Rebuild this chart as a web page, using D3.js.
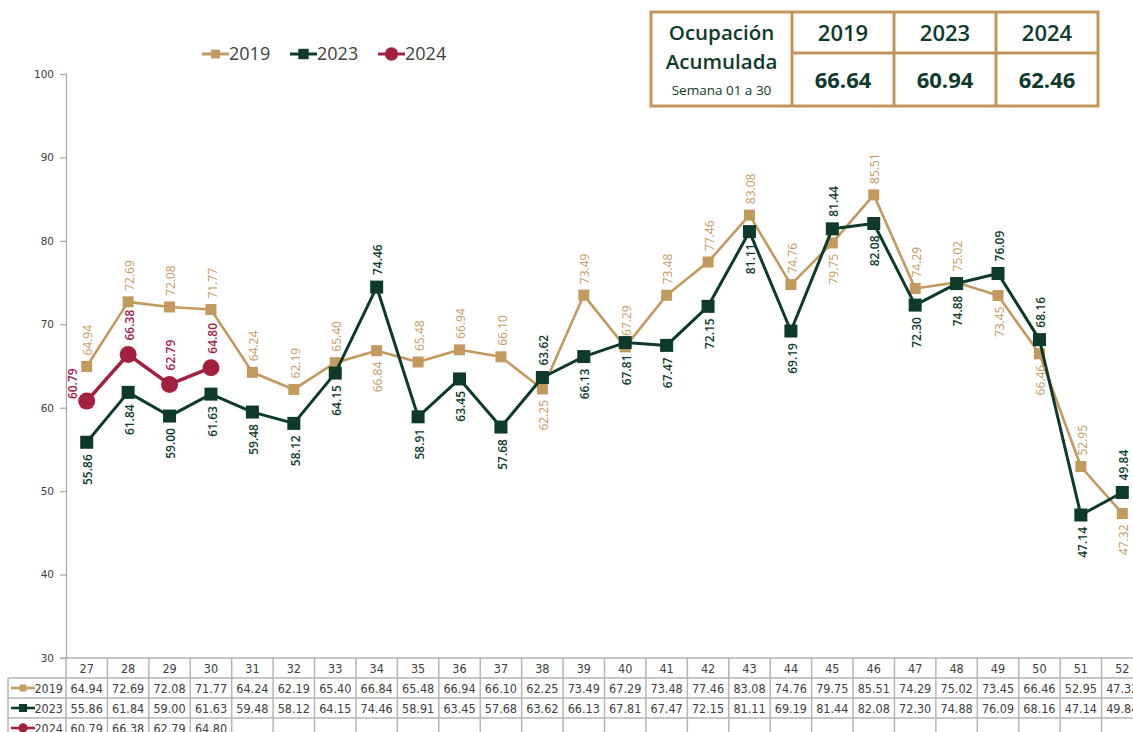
<!DOCTYPE html>
<html>
<head>
<meta charset="utf-8">
<script src="https://cdn.jsdelivr.net/npm/d3@7"></script>
<style>
  body { margin: 0; background: #fff; overflow: hidden; }
  svg { display: block; }
</style>
</head>
<body>
<svg id="chart" width="1133" height="732"></svg>
<script>
// weekly occupancy, weeks 27 to 52
const weeks = ["27","28","29","30","31","32","33","34","35","36","37","38","39",
               "40","41","42","43","44","45","46","47","48","49","50","51","52"];
const values2019 = [64.94,72.69,72.08,71.77,64.24,62.19,65.40,66.84,65.48,66.94,66.10,62.25,73.49,
                    67.29,73.48,77.46,83.08,74.76,79.75,85.51,74.29,75.02,73.45,66.46,52.95,47.32];
const values2023 = [55.86,61.84,59.00,61.63,59.48,58.12,64.15,74.46,58.91,63.45,57.68,63.62,66.13,
                    67.81,67.47,72.15,81.11,69.19,81.44,82.08,72.30,74.88,76.09,68.16,47.14,49.84];
const values2024 = [60.79,66.38,62.79,64.80];

const yTicks = [30,40,50,60,70,80,90,100];

// summary box
const summaryYears = ["2019","2023","2024"];
const summaryValues = [66.64,60.94,62.46];
const summaryTitle = ["Ocupación","Acumulada"];
const summarySub = "Semana 01 a 30";

const colors = { "2019": "#C39A5E", "2023": "#0E3A2C", "2024": "#A3203F" };
const series = [
  { name: "2019", values: values2019, shape: "square", size: 11, width: 2.6 },
  { name: "2023", values: values2023, shape: "square", size: 13, width: 3 },
  { name: "2024", values: values2024, shape: "circle", size: 17, width: 3.5 }
];

const svg = d3.select("#chart");
const margin = { left: 66, top: 74, axisBottom: 658 };

const x = d3.scaleBand().domain(weeks).range([66, 1143]);
const y = d3.scaleLinear().domain([30, 100]).range([margin.axisBottom, margin.top]);
const cx = (i) => x(weeks[i]) + x.bandwidth() / 2;

// y axis
const yAxis = d3.axisLeft(y).tickValues(yTicks).tickSize(6).tickPadding(6);
const yG = svg.append("g")
  .attr("transform", `translate(${margin.left},0)`)
  .call(yAxis);
yG.select(".domain").attr("stroke", "#a6a6a6").attr("stroke-width", 1.2);
yG.selectAll(".tick line").attr("stroke", "#a6a6a6").attr("stroke-width", 1.2);
yG.selectAll(".tick text")
  .style("font-family", "'DejaVu Sans', sans-serif")
  .style("font-size", "10.5px")
  .attr("fill", "#404040");

// data table under the plot
const rowH = 20;
const tableTop = margin.axisBottom;
const tableFont = "'Liberation Sans Narrow', 'DejaVu Sans Condensed', 'Roboto', sans-serif";
const table = svg.append("g");
const lineColor = "#b5b5b5";
const nRows = 4;

// horizontal lines
table.append("line")
  .attr("x1", 60).attr("x2", 1133)
  .attr("y1", tableTop).attr("y2", tableTop)
  .attr("stroke", lineColor).attr("stroke-width", 1.5);
for (let r = 1; r <= nRows; r++) {
  table.append("line")
    .attr("x1", 8).attr("x2", 1133)
    .attr("y1", tableTop + r * rowH).attr("y2", tableTop + r * rowH)
    .attr("stroke", lineColor).attr("stroke-width", 1.5);
}
// vertical lines
weeks.forEach((w) => {
  table.append("line")
    .attr("x1", x(w)).attr("x2", x(w))
    .attr("y1", tableTop).attr("y2", 732)
    .attr("stroke", lineColor).attr("stroke-width", 1.5);
});
table.append("line")
  .attr("x1", 8).attr("x2", 8)
  .attr("y1", tableTop + rowH).attr("y2", 732)
  .attr("stroke", lineColor).attr("stroke-width", 1.5);

// header row
table.selectAll(".hdr")
  .data(weeks)
  .join("text")
  .attr("x", (d) => x(d) + x.bandwidth() / 2)
  .attr("y", tableTop + rowH / 2)
  .attr("dy", "0.36em")
  .attr("text-anchor", "middle")
  .style("font-family", tableFont)
  .style("font-size", "12.5px")
  .attr("fill", "#404040")
  .text((d) => d);

function drawMarker(g, s, px, py, scale) {
  const sz = s.size * scale;
  if (s.shape === "square") {
    g.append("rect")
      .attr("x", px - sz / 2).attr("y", py - sz / 2)
      .attr("width", sz).attr("height", sz)
      .attr("fill", colors[s.name]);
  } else {
    g.append("circle")
      .attr("cx", px).attr("cy", py).attr("r", sz / 2)
      .attr("fill", colors[s.name]);
  }
}

series.forEach((s, r) => {
  const ry = tableTop + (r + 1) * rowH + rowH / 2;
  // legend key in row label
  table.append("line")
    .attr("x1", 11).attr("x2", 35)
    .attr("y1", ry).attr("y2", ry)
    .attr("stroke", colors[s.name]).attr("stroke-width", 2.6);
  drawMarker(table, s, 23, ry, s.shape === "circle" ? 0.55 : 0.62);
  table.append("text")
    .attr("x", 63).attr("y", ry).attr("dy", "0.36em")
    .attr("text-anchor", "end")
    .style("font-family", tableFont)
    .style("font-size", "12.5px")
    .attr("fill", "#404040")
    .text(s.name);
  table.selectAll(".cell" + s.name)
    .data(s.values)
    .join("text")
    .attr("x", (d, i) => cx(i))
    .attr("y", ry).attr("dy", "0.36em")
    .attr("text-anchor", "middle")
    .style("font-family", tableFont)
    .style("font-size", "12.5px")
    .attr("fill", "#404040")
    .text((d) => d.toFixed(2));
});

// lines and markers
const line = d3.line()
  .x((d, i) => cx(i))
  .y((d) => y(d));

series.forEach((s) => {
  const g = svg.append("g");
  g.append("path")
    .datum(s.values)
    .attr("d", line)
    .attr("fill", "none")
    .attr("stroke", colors[s.name])
    .attr("stroke-width", s.width)
    .attr("stroke-linejoin", "round");
  s.values.forEach((v, i) => drawMarker(g, s, cx(i), y(v), 1));
});

// data labels, rotated to read upward
const labelFont = "'Open Sans', sans-serif";
function label(px, py, txt, color, above, gap, weight) {
  svg.append("text")
    .attr("transform", `translate(${px + 1.5},${above ? py - gap : py + gap}) rotate(-90)`)
    .attr("text-anchor", above ? "start" : "end")
    .attr("dy", "0.35em")
    .style("font-family", labelFont)
    .style("font-size", "12px")
    .style("font-weight", weight)
    .attr("fill", color)
    .text(txt);
}

weeks.forEach((w, i) => {
  const a = values2019[i], b = values2023[i];
  // green label goes on top only when 2023 is clearly above 2019
  const greenHigher = b - a > 1;
  label(cx(i), y(a), a.toFixed(2), colors["2019"], !greenHigher, 11, 400);
  label(cx(i), y(b), b.toFixed(2), colors["2023"], greenHigher, 12, 600);
});

values2024.forEach((v, i) => {
  const px = cx(i), py = y(v);
  svg.append("text")
    .attr("transform", i === 0
      ? `translate(${px - 14},${py - 2}) rotate(-90)`
      : `translate(${px + 1.5},${py - 14}) rotate(-90)`)
    .attr("text-anchor", "start")
    .attr("dy", "0.35em")
    .style("font-family", labelFont)
    .style("font-size", "12px")
    .style("font-weight", 600)
    .attr("fill", colors["2024"])
    .text(v.toFixed(2));
});

// legend
const legend = svg.append("g").attr("transform", "translate(202,54)");
let lx = 0;
series.forEach((s) => {
  const g = legend.append("g").attr("transform", `translate(${lx},0)`);
  g.append("line").attr("x1", 0).attr("x2", 27).attr("y1", 0).attr("y2", 0)
    .attr("stroke", colors[s.name]).attr("stroke-width", 3);
  drawMarker(g, s, 13.5, 0, s.shape === "circle" ? 0.78 : 0.8);
  g.append("text")
    .attr("x", 27).attr("y", 0).attr("dy", "0.36em")
    .style("font-family", "'Open Sans', sans-serif")
    .style("font-size", "18px")
    .attr("fill", "#404040")
    .text(s.name);
  lx += 88;
});

// summary box top right
const box = svg.append("g");
const bx0 = 651, bx1 = 792, by0 = 12, by1 = 53, by2 = 106, bw = 102;
const gold = "#BF975B";
const dark = "#0E3A2C";
box.append("rect")
  .attr("x", bx0).attr("y", by0)
  .attr("width", bx1 - bx0 + bw * 3).attr("height", by2 - by0)
  .attr("fill", "#fff").attr("stroke", gold).attr("stroke-width", 3);
for (let c = 0; c < 3; c++) {
  box.append("line")
    .attr("x1", bx1 + c * bw).attr("x2", bx1 + c * bw)
    .attr("y1", by0).attr("y2", by2)
    .attr("stroke", gold).attr("stroke-width", 3);
}
box.append("line")
  .attr("x1", bx1).attr("x2", bx1 + bw * 3)
  .attr("y1", by1).attr("y2", by1)
  .attr("stroke", gold).attr("stroke-width", 3);

const titleX = (bx0 + bx1) / 2;
box.append("text").attr("x", titleX).attr("y", 33).attr("dy", "0.36em")
  .attr("text-anchor", "middle")
  .style("font-family", "'Open Sans', sans-serif").style("font-size", "20.5px").style("font-weight", 600)
  .attr("fill", dark).text(summaryTitle[0]);
box.append("text").attr("x", titleX).attr("y", 62).attr("dy", "0.36em")
  .attr("text-anchor", "middle")
  .style("font-family", "'Open Sans', sans-serif").style("font-size", "20.5px").style("font-weight", 600)
  .attr("fill", dark).text(summaryTitle[1]);
box.append("text").attr("x", titleX).attr("y", 90).attr("dy", "0.36em")
  .attr("text-anchor", "middle")
  .style("font-family", "'Open Sans', sans-serif").style("font-size", "13.5px").style("font-weight", 500)
  .attr("fill", dark).text(summarySub);

summaryYears.forEach((yr, c) => {
  const mx = bx1 + c * bw + bw / 2;
  box.append("text").attr("x", mx).attr("y", 33).attr("dy", "0.36em")
    .attr("text-anchor", "middle")
    .style("font-family", "'Open Sans', sans-serif").style("font-size", "22px").style("font-weight", 600)
    .attr("fill", dark).text(yr);
  box.append("text").attr("x", mx).attr("y", 80).attr("dy", "0.36em")
    .attr("text-anchor", "middle")
    .style("font-family", "'Open Sans', sans-serif").style("font-size", "22px").style("font-weight", 700)
    .attr("fill", dark).text(summaryValues[c].toFixed(2));
});
</script>
</body>
</html>
